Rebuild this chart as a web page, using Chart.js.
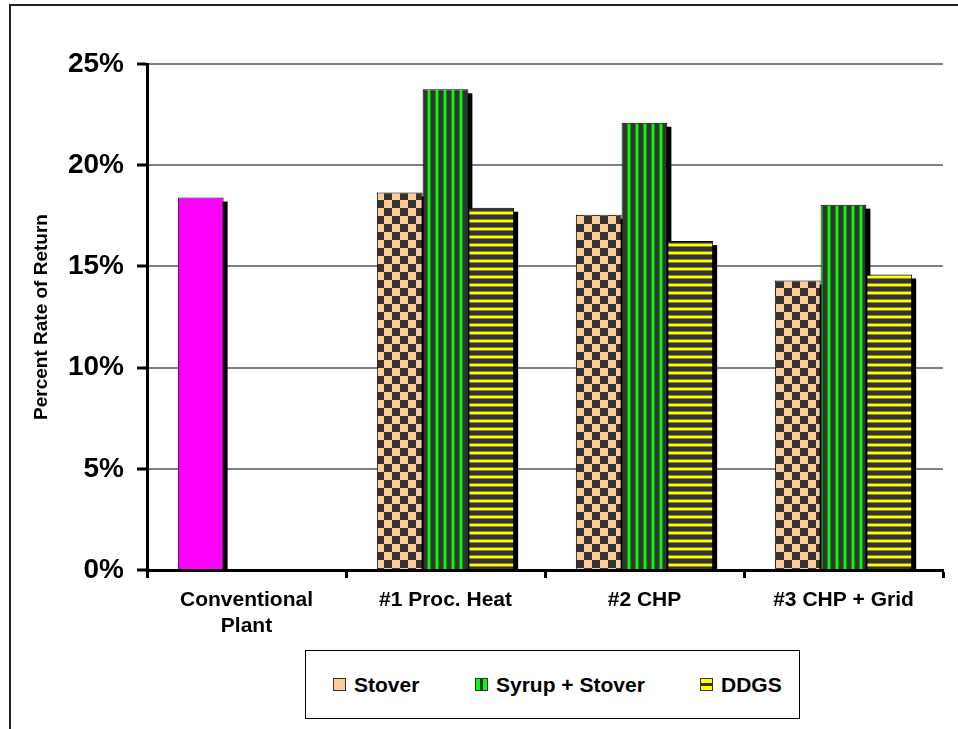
<!DOCTYPE html>
<html>
<head>
<meta charset="utf-8">
<script src="https://cdn.jsdelivr.net/npm/chart.js@4/dist/chart.umd.min.js"></script>
<style>
  html, body { margin:0; padding:0; background:#fff; }
  #wrap { position:relative; width:958px; height:729px; overflow:hidden; font-family:"Liberation Sans", Arial, sans-serif; }
  #frame { position:absolute; left:9px; top:4px; width:1000px; height:800px; border-left:2px solid #222; border-top:2px solid #222; box-sizing:border-box; }
  #c { position:absolute; left:0; top:0; }
  #legend { position:absolute; left:305px; top:650px; width:495px; height:69px; border:1px solid #000; box-sizing:border-box; background:#fff; }
  .item { position:absolute; top:0; height:67px; display:flex; align-items:center; font-weight:bold; font-size:21px; color:#000; white-space:nowrap; }
  .sw { width:11px; height:11px; border:1px solid #333; margin-right:8px; box-sizing:content-box; }
</style>
</head>
<body>
<div id="wrap">
  <div id="frame"></div>
  <canvas id="c" width="958" height="729"></canvas>
  <div id="legend"></div>
</div>
<script>
// ---- data ----
const categories = [["Conventional", "Plant"], "#1 Proc. Heat", "#2 CHP", "#3 CHP + Grid"];
const seriesNames = ["Stover", "Syrup + Stover", "DDGS"];
const stover = [18.4, 18.65, 17.55, 14.3];
const syrupStover = [null, 23.75, 22.1, 18.05];
const ddgs = [null, 17.9, 16.25, 14.6];
const yTicks = [0, 5, 10, 15, 20, 25];

// ---- patterns ----
function makePattern(draw, w, h) {
  const p = document.createElement('canvas');
  p.width = w; p.height = h;
  draw(p.getContext('2d'));
  return p.getContext('2d').createPattern(p, 'repeat');
}
const ctxMain = document.getElementById('c').getContext('2d');
const checker = makePattern(g => {
  g.fillStyle = '#FFCC99'; g.fillRect(0,0,16,16);
  g.fillStyle = '#333333'; g.fillRect(0,0,8,8); g.fillRect(8,8,8,8);
}, 16, 16);
const vStripe = makePattern(g => {
  g.fillStyle = '#333333'; g.fillRect(0,0,8,8);
  g.fillStyle = '#1E8C1E'; g.fillRect(3,0,1,8); g.fillRect(6,0,1,8);
  g.fillStyle = '#00FF00'; g.fillRect(4,0,2,8);
}, 8, 8);
const hStripe = makePattern(g => {
  g.fillStyle = '#333333'; g.fillRect(0,0,8,8);
  g.fillStyle = '#8C8C1E'; g.fillRect(0,3,8,1); g.fillRect(0,6,8,1);
  g.fillStyle = '#FFFF00'; g.fillRect(0,4,8,2);
}, 8, 8);

// ---- shadow plugin ----
const shadowPlugin = {
  id: 'shadow',
  beforeDatasetsDraw(chart) {
    const ctx = chart.ctx, a = chart.chartArea;
    ctx.save();
    ctx.beginPath(); ctx.rect(a.left, a.top, a.right - a.left, a.bottom - a.top); ctx.clip();
    ctx.fillStyle = '#000';
    chart.data.datasets.forEach((ds, i) => {
      const meta = chart.getDatasetMeta(i);
      meta.data.forEach((bar, j) => {
        if (ds.data[j] == null) return;
        const w = bar.width;
        ctx.fillRect(bar.x - w/2 + 4, bar.y + 4, w, bar.base - bar.y);
      });
    });
    ctx.restore();
  }
};

new Chart(ctxMain, {
  type: 'bar',
  data: {
    labels: categories,
    datasets: [
      { label: seriesNames[0], data: stover, backgroundColor: ['#FF00FF', checker, checker, checker], borderColor: '#000', borderWidth: 1 },
      { label: seriesNames[1], data: syrupStover, backgroundColor: vStripe, borderColor: '#000', borderWidth: 1 },
      { label: seriesNames[2], data: ddgs, backgroundColor: hStripe, borderColor: '#000', borderWidth: 1 }
    ]
  },
  options: {
    responsive: false,
    animation: false,
    devicePixelRatio: 1,
    layout: { padding: { left: 0, right: 15, top: 64, bottom: 0 } },
    plugins: { legend: { display: false }, tooltip: { enabled: false } },
    datasets: { bar: { categoryPercentage: 0.69, barPercentage: 1.0 } },
    scales: {
      x: {
        grid: { offset: true, drawOnChartArea: false, drawTicks: true, tickLength: 8, tickColor: '#000', tickWidth: 3 },
        border: { color: '#000', width: 3 },
        ticks: { color: '#000', font: { family: 'Liberation Sans, Arial', size: 21, weight: 'bold', lineHeight: 1.2 }, padding: 10, maxRotation: 0, autoSkip: false },
        afterFit(s) { s.height = 159; }
      },
      y: {
        min: 0, max: 25,
        afterBuildTicks(s) { s.ticks = yTicks.map(v => ({ value: v })); },
        grid: { color: '#808080', lineWidth: 2, drawTicks: true, tickLength: 10, tickColor: '#000', tickWidth: 3 },
        border: { color: '#000', width: 3 },
        ticks: { color: '#000', font: { family: 'Liberation Sans, Arial', size: 28, weight: 'bold' }, padding: 13, callback: v => v + '%' },
        title: { display: true, text: 'Percent Rate of Return', color: '#000', font: { family: 'Liberation Sans, Arial', size: 19, weight: 'bold' }, padding: { top: 30, bottom: 0 } },
        afterFit(s) { s.width = 147; }
      }
    }
  },
  plugins: [shadowPlugin]
});

// ---- HTML legend ----
const legend = document.getElementById('legend');
const swatches = [
  'background:#FFCC99;',
  'background:linear-gradient(to right,#00FF00 0,#00FF00 4px,#333 4px,#333 7px,#00FF00 7px,#00FF00 11px);',
  'background:linear-gradient(to bottom,#FFFF00 0,#FFFF00 4px,#333 4px,#333 7px,#FFFF00 7px,#FFFF00 11px);'
];
const itemX = [27, 169, 394];
seriesNames.forEach((n, i) => {
  const d = document.createElement('div');
  d.className = 'item';
  d.style.left = itemX[i] + 'px';
  d.innerHTML = '<span class="sw" style="' + swatches[i] + '"></span><span>' + n + '</span>';
  legend.appendChild(d);
});
</script>
</body>
</html>
